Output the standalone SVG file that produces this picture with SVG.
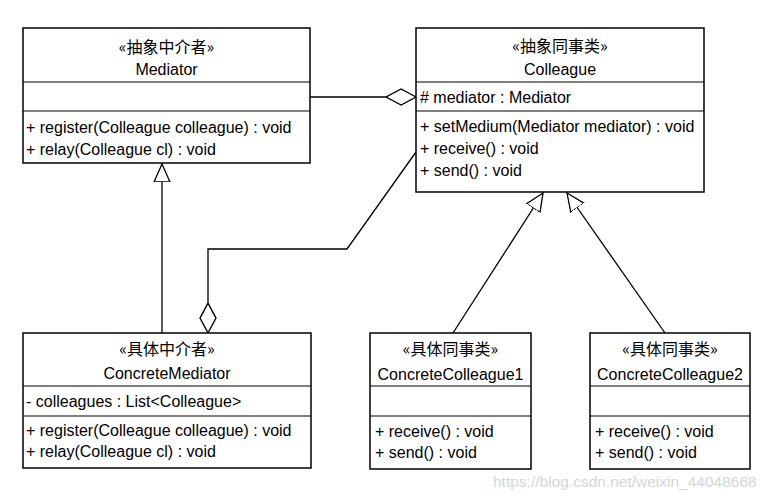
<svg xmlns="http://www.w3.org/2000/svg" width="774" height="498" viewBox="0 0 774 498">
<style>
.box{fill:#fff;stroke:#000;stroke-width:1.5}
.div{stroke:#000;stroke-width:1.2}
.t{font-family:"Liberation Sans","Noto Sans CJK SC",Arial,sans-serif;font-size:16px;fill:#000}
.c{text-anchor:middle}
.st{font-family:"Noto Sans CJK SC","Liberation Sans",sans-serif;font-size:16px;fill:#000;text-anchor:middle}
.ln{fill:none;stroke:#000;stroke-width:1.3}
.wm{font-family:"Liberation Sans",Arial,sans-serif;font-size:15.5px;fill:#d6d6d6}
</style>
<defs>
<marker id="tri" markerUnits="userSpaceOnUse" markerWidth="20" markerHeight="20" refX="18" refY="8" orient="auto" viewBox="0 0 20 16">
<path d="M18,8 L0,0 L0,16 Z" fill="#fff" stroke="#000" stroke-width="1.3"/>
</marker>
<marker id="dia" markerUnits="userSpaceOnUse" markerWidth="32" markerHeight="20" refX="28" refY="8" orient="auto" viewBox="0 0 30 16">
<path d="M28,8 L14,0.5 L0,8 L14,15.5 Z" fill="#fff" stroke="#000" stroke-width="1.3"/>
</marker>
</defs>
<rect width="774" height="498" fill="#fff"/>
<g id="connectors">
<line class="ln" x1="310" y1="97" x2="416" y2="97" marker-end="url(#dia)"/>
<line class="ln" x1="162" y1="333" x2="162" y2="164" marker-end="url(#tri)"/>
<polyline class="ln" points="416,152 347,249 208,249 208,333" marker-end="url(#dia)"/>
<line class="ln" x1="453" y1="333" x2="543" y2="193" marker-end="url(#tri)"/>
<line class="ln" x1="665" y1="333" x2="567" y2="193" marker-end="url(#tri)"/>
</g>
<g id="Mediator">
<rect class="box" x="23" y="28" width="287" height="135"/>
<line class="div" x1="23" y1="82" x2="310" y2="82"/>
<line class="div" x1="23" y1="111" x2="310" y2="111"/>
<text class="st" x="166.5" y="53">«抽象中介者»</text>
<text class="t c" x="166.5" y="75">Mediator</text>
<text class="t" x="26" y="133">+ register(Colleague colleague) : void</text>
<text class="t" x="26" y="155">+ relay(Colleague cl) : void</text>
</g>
<g id="Colleague">
<rect class="box" x="416" y="28" width="288" height="164"/>
<line class="div" x1="416" y1="82" x2="704" y2="82"/>
<line class="div" x1="416" y1="111" x2="704" y2="111"/>
<text class="st" x="560" y="52">«抽象同事类»</text>
<text class="t c" x="560" y="75">Colleague</text>
<text class="t" x="420" y="103"># mediator : Mediator</text>
<text class="t" x="420" y="132">+ setMedium(Mediator mediator) : void</text>
<text class="t" x="420" y="154">+ receive() : void</text>
<text class="t" x="420" y="176">+ send() : void</text>
</g>
<g id="ConcreteMediator">
<rect class="box" x="23" y="333" width="288" height="135"/>
<line class="div" x1="23" y1="386" x2="311" y2="386"/>
<line class="div" x1="23" y1="416" x2="311" y2="416"/>
<text class="st" x="167" y="355">«具体中介者»</text>
<text class="t c" x="167" y="379">ConcreteMediator</text>
<text class="t" x="26" y="407">- colleagues : List&lt;Colleague&gt;</text>
<text class="t" x="26" y="436">+ register(Colleague colleague) : void</text>
<text class="t" x="26" y="457">+ relay(Colleague cl) : void</text>
</g>
<g id="ConcreteColleague1">
<rect class="box" x="370" y="333" width="161" height="136"/>
<line class="div" x1="370" y1="386" x2="531" y2="386"/>
<line class="div" x1="370" y1="416" x2="531" y2="416"/>
<text class="st" x="450.5" y="355">«具体同事类»</text>
<text class="t c" x="450.5" y="380">ConcreteColleague1</text>
<text class="t" x="375" y="437">+ receive() : void</text>
<text class="t" x="375" y="458">+ send() : void</text>
</g>
<g id="ConcreteColleague2">
<rect class="box" x="590" y="333" width="160" height="136"/>
<line class="div" x1="590" y1="386" x2="750" y2="386"/>
<line class="div" x1="590" y1="416" x2="750" y2="416"/>
<text class="st" x="670" y="355">«具体同事类»</text>
<text class="t c" x="670" y="380">ConcreteColleague2</text>
<text class="t" x="595" y="437">+ receive() : void</text>
<text class="t" x="595" y="458">+ send() : void</text>
</g>
<text class="wm" x="493" y="487">https://blog.csdn.net/weixin_44048668</text>
</svg>
